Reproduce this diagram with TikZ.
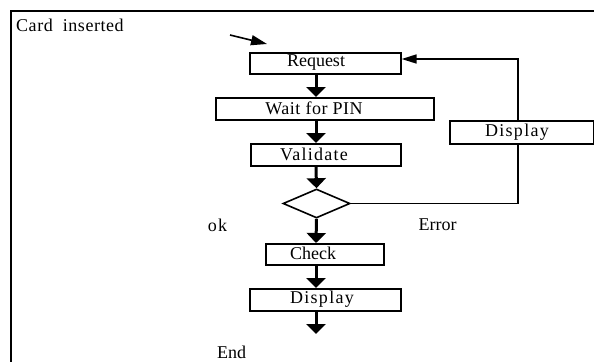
\documentclass[tikz,border=0pt]{standalone}
\usepackage{fontspec}
\setmainfont{Liberation Serif}
\usetikzlibrary{arrows.meta,shapes.geometric}
\newfontfamily\spaced[LetterSpace=3]{Liberation Serif}
\newfontfamily\wide[LetterSpace=7]{Liberation Serif}
\begin{document}
\begin{tikzpicture}[x=1pt,y=-1pt,
  every node/.style={font=\fontsize{18}{21}\selectfont},
  box/.style={draw,line width=1.6pt,inner sep=0pt,anchor=north west},
  lbl/.style={inner sep=0pt},
  flow/.style={line width=3pt,-{Triangle[width=19pt,length=10pt]}},
  back/.style={line width=1.6pt,-{Triangle[width=9pt,length=15pt]}}]
\useasboundingbox (0,0) rectangle (594,362);
% outer frame (top and left edges)
\draw[line width=1.6pt] (594,11) -- (11,11) -- (11,362);
\node[lbl,anchor=west] (start) at (16,25) {\spaced Card\ \ inserted};
% boxes
\node[box,minimum width=151pt,minimum height=21pt] (req) at (249,52) {};
\node[lbl] at (316,62.5) {Request};
\node[box,minimum width=218pt,minimum height=22pt] (wait) at (215,97) {};
\node[lbl] at (314,108) {\spaced Wait for PIN};
\node[box,minimum width=150pt,minimum height=22pt] (val) at (250,143) {};
\node[lbl] at (314,154) {\wide Validate};
\node[draw,line width=1.6pt,shape=diamond,aspect=2.3,minimum width=67pt,minimum height=29pt,inner sep=0pt] (dec) at (316.5,203.5) {};
\node[box,minimum width=144pt,minimum height=23pt] (disp1) at (449,120) {};
\node[lbl] at (517,132) {\wide Display};
\node[box,minimum width=118pt,minimum height=21pt] (chk) at (265,243) {};
\node[lbl] at (313,253.5) {Check};
\node[box,minimum width=151pt,minimum height=22pt] (disp2) at (249,288) {};
\node[lbl] at (322,299) {\wide Display};
% labels
\node[lbl] (ok) at (217.5,225) {\wide ok};
\node[lbl] (err) at (437.5,225) {Error};
\node[lbl] (fin) at (231.5,352) {End};
% entry arrow
\coordinate (in) at (230,35);
\draw[line width=1.6pt,-{Triangle[width=10pt,length=16pt]}] (in) -- (267,44);
% main flow
\draw[flow] (req.south -| 316,0) -- (wait.north -| 316,0);
\draw[flow] (wait.south -| 316,0) -- (val.north -| 316,0);
\draw[flow] (val.south -| 316,0) -- (dec.north);
\draw[flow] (dec.south) -- (chk.north -| 316,0);
\draw[flow] (chk.south -| 316,0) -- (disp2.north -| 316,0);
\coordinate (out) at (316,334);
\draw[flow] (disp2.south -| 316,0) -- (out);
% error loop
\coordinate (loop) at (518,59);
\draw[line width=1.6pt] (dec.east) -| (disp1.south -| loop);
\draw[back] (disp1.north -| loop) -- (loop) -- (req.east |- loop);
\end{tikzpicture}
\end{document}
